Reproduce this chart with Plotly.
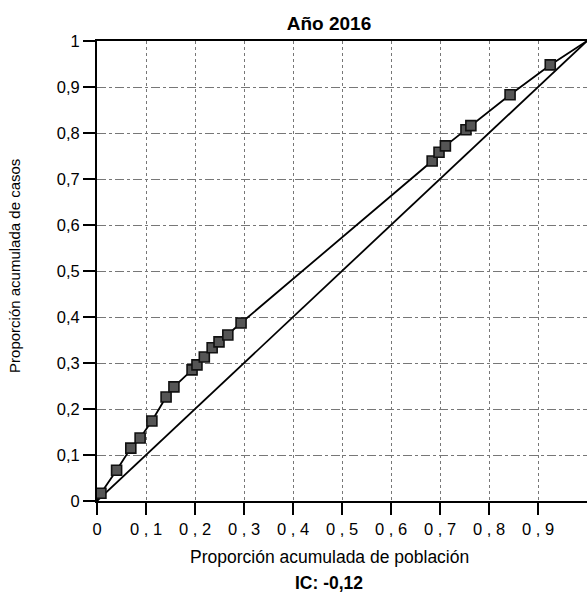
import plotly.graph_objects as go

# Data
pop_x = [0.008, 0.040, 0.069, 0.088, 0.112, 0.141, 0.157, 0.194, 0.204, 0.219,
         0.235, 0.249, 0.267, 0.294, 0.684, 0.698, 0.711, 0.753, 0.763, 0.843, 0.925]
cases_y = [0.017, 0.067, 0.115, 0.137, 0.174, 0.226, 0.248, 0.285, 0.296, 0.313,
           0.333, 0.346, 0.361, 0.387, 0.739, 0.758, 0.772, 0.807, 0.816, 0.883, 0.948]
start_pt = [0.0, 0.0]
end_pt = [1.0, 1.0]

x_tickvals = [0, 0.1, 0.2, 0.3, 0.4, 0.5, 0.6, 0.7, 0.8, 0.9]
x_ticktext = ["0", "0 , 1", "0 , 2", "0 , 3", "0 , 4", "0 , 5", "0 , 6", "0 , 7", "0 , 8", "0 , 9"]
y_tickvals = [0, 0.1, 0.2, 0.3, 0.4, 0.5, 0.6, 0.7, 0.8, 0.9, 1]
y_ticktext = ["0", "0,1", "0,2", "0,3", "0,4", "0,5", "0,6", "0,7", "0,8", "0,9", "1"]

title_text = "Año 2016"
x_title = "Proporción acumulada de población"
y_title = "Proporción acumulada de casos"
ic_text = "IC: -0,12"

FONT = "Liberation Sans, Arial, sans-serif"

fig = go.Figure()
# equality diagonal
fig.add_trace(go.Scatter(x=[start_pt[0], end_pt[0]], y=[start_pt[1], end_pt[1]],
                         mode="lines", line=dict(color="black", width=1.8),
                         showlegend=False, hoverinfo="skip"))
# concentration curve line
fig.add_trace(go.Scatter(x=[start_pt[0]] + pop_x + [end_pt[0]],
                         y=[start_pt[1]] + cases_y + [end_pt[1]],
                         mode="lines", line=dict(color="black", width=1.8),
                         showlegend=False))
# markers
fig.add_trace(go.Scatter(x=pop_x, y=cases_y, mode="markers",
                         marker=dict(symbol="square", size=10, color="#555555",
                                     line=dict(color="#111111", width=1.6)),
                         showlegend=False, cliponaxis=False))

fig.update_layout(
    width=587, height=596,
    margin=dict(l=97, r=0, t=41, b=95, autoexpand=False),
    paper_bgcolor="white", plot_bgcolor="white",
    font=dict(family=FONT, color="black", size=15),
    title=dict(text="<b>" + title_text + "</b>", x=329 / 587, xanchor="center",
               y=0.96, yanchor="middle", font=dict(size=19, family=FONT)),
    annotations=[
        dict(text=x_title, xref="paper", yref="paper", x=0.4735, y=0,
             xanchor="center", yanchor="middle", yshift=-56,
             showarrow=False, font=dict(size=17.5, family=FONT)),
        dict(text="<b>" + ic_text + "</b>", xref="paper", yref="paper",
             x=0.4735, y=0, xanchor="center", yanchor="middle", yshift=-82,
             showarrow=False, font=dict(size=17.5, family=FONT)),
        dict(text=y_title, xref="paper", yref="paper", x=0, y=0.511,
             xanchor="center", yanchor="middle", xshift=-82, textangle=-90,
             showarrow=False, font=dict(size=15, family=FONT)),
    ],
)
fig.update_xaxes(range=[0, 1], tickvals=x_tickvals, ticktext=x_ticktext,
                 showline=True, linecolor="black", linewidth=2, mirror=True,
                 ticks="outside", ticklen=12, tickwidth=2, tickcolor="black",
                 showgrid=True, gridcolor="#777777", gridwidth=1, griddash="dot",
                 zeroline=False, tickfont=dict(size=16.5))
fig.update_yaxes(range=[0, 1], tickvals=y_tickvals, ticktext=y_ticktext,
                 showline=True, linecolor="black", linewidth=2,
                 ticks="outside", ticklen=12, tickwidth=2, tickcolor="black",
                 showgrid=True, gridcolor="#777777", gridwidth=1, griddash="dashdot",
                 zeroline=False, tickfont=dict(size=16.5))

fig.write_html("out.html", config={"displayModeBar": False},
               post_script="document.body.style.margin='0px';")
